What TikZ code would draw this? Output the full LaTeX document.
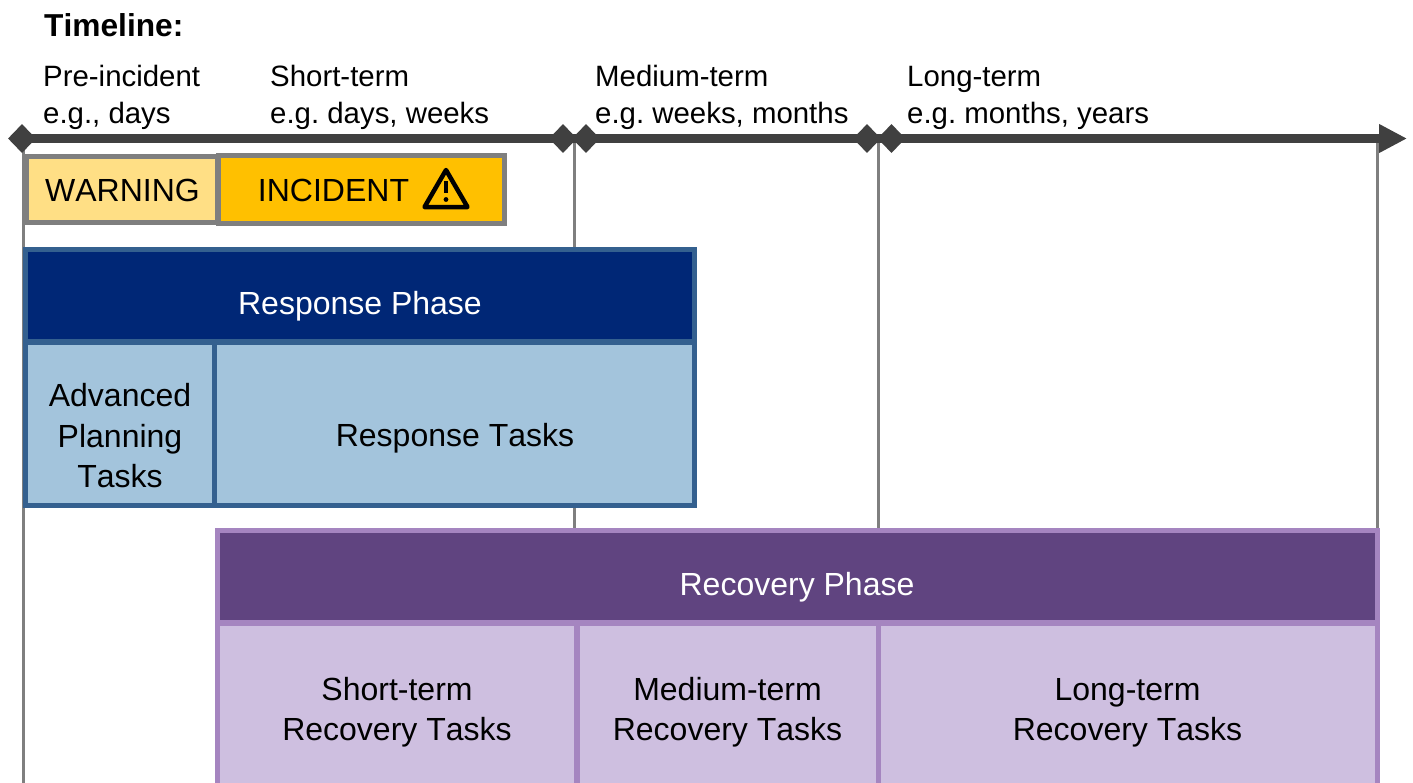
\documentclass[tikz,border=0pt]{standalone}
\usepackage{fontspec}
\setmainfont[Kerning=Off]{Liberation Sans}
\frenchspacing
\usetikzlibrary{arrows.meta,shapes.geometric}
\definecolor{axisgray}{HTML}{404040}
\definecolor{gridgray}{HTML}{7F7F7F}
\definecolor{warnfill}{HTML}{FFDF85}
\definecolor{incidentfill}{HTML}{FFC000}
\definecolor{responsedark}{HTML}{002776}
\definecolor{responseline}{HTML}{34608F}
\definecolor{responselight}{HTML}{A3C4DC}
\definecolor{recoverydark}{HTML}{604480}
\definecolor{recoveryline}{HTML}{A585C0}
\definecolor{recoverylight}{HTML}{CEBFE0}
\tikzset{
  marker/.style={diamond,fill=axisgray,minimum width=28pt,minimum height=29pt,inner sep=0pt},
  gridline/.style={gridgray,line width=3pt},
  timelabel/.style={anchor=west,align=left,inner sep=0pt,font=\fontsize{29.4}{37}\selectfont},
  box/.style={draw,line width=5pt,inner sep=0pt,align=center,font=\fontsize{32}{40.5}\selectfont},
  alertbox/.style={box,draw=gridgray},
  responsebox/.style={box,draw=responseline,fill=responselight},
  recoverybox/.style={box,draw=recoveryline,fill=recoverylight},
  boxtext/.style={inner sep=0pt,align=center,font=\fontsize{32}{40.5}\selectfont}
}

\begin{document}
\begin{tikzpicture}[x=1pt,y=-1pt]
    \clip[use as bounding box] (0,0) rectangle (1413,782);
    \node[anchor=west,inner sep=0pt,font=\fontsize{31.7}{38}\selectfont\bfseries] (title) at (44,25.5) {Timeline:};
    \node[timelabel] (preinc) at ( 43,97) {Pre-incident\\e.g., days};
    \node[timelabel] (short)  at (270,97) {Short-term\\e.g. days, weeks};
    \node[timelabel] (medium) at (595,97) {Medium-term\\e.g. weeks, months};
    \node[timelabel] (long)   at (907,98) {Long-term\\e.g. months, years};
    % vertical guides
    \coordinate (axisa) at (  23,138);
    \coordinate (axisb) at ( 574,138);
    \coordinate (axisc) at ( 878,138);
    \coordinate (axisd) at (1377,138);
    \coordinate (foota) at (  23,790);
    \coordinate (footb) at ( 574,535);
    \coordinate (footc) at ( 878,535);
    \coordinate (footd) at (1377,535);
    \draw[gridline] (axisa) -- (foota);
    \draw[gridline] (axisb) -- (footb);
    \draw[gridline] (axisc) -- (footc);
    \draw[gridline] (axisd) -- (footd);
    % axis
    \coordinate (axistip) at (1407,138.5);
    \coordinate (axisstart) at (23,138.5);
    \draw[axisgray,line width=9.5pt,-{Triangle[length=28pt,width=27pt]}] (axisstart) -- (axistip);
    \node[marker] (marka) at ( 22,138.5) {};
    \node[marker] (markb) at (563,138.5) {};
    \node[marker] (markc) at (586,138.5) {};
    \node[marker] (markd) at (867,138.5) {};
    \node[marker] (marke) at (891.5,138.5) {};
    % warning and incident
    \node[alertbox,fill=warnfill,minimum width=191pt,minimum height=66pt] (warning) at (122,189) {};
    \node[boxtext] (warningtext) at (122.5,190.5) {WARNING};
    \node[alertbox,fill=incidentfill,minimum width=286.5pt,minimum height=68pt] (incident) at (361.25,189) {};
    \node[boxtext] (incidenttext) at (333.5,190.5) {INCIDENT};
    \draw[black,line width=4.5pt,line join=round] (446,170) -- (467.5,207) -- (424.5,207) -- cycle;
    \draw[black,line width=4pt] (446,181) -- (446,193);
    \fill[black] (446,199.5) circle (2.4pt);
    % response phase
    \node[box,draw=responseline,fill=responsedark,minimum width=669pt,minimum height=92pt] (respphase) at (360,295.5) {};
    \node[boxtext,text=white] (resptext) at (360,306) {Response Phase};
    \node[responsebox,minimum width=189pt,minimum height=163pt] (advanced) at (120,423.5) {};
    \node[boxtext] (advtext) at (120,436) {Advanced\\Planning\\Tasks};
    \node[responsebox,minimum width=480pt,minimum height=163pt] (resptasks) at (454.5,423.5) {};
    \node[boxtext] (resptaskstext) at (455,438) {Response Tasks};
    % recovery phase
    \node[box,draw=recoveryline,fill=recoverydark,minimum width=1159.5pt,minimum height=92pt] (recphase) at (797.25,576.5) {};
    \node[boxtext,text=white] (rectext) at (797,587) {Recovery Phase};
    \node[recoverybox,minimum width=359pt,minimum height=178pt] (recshort) at (397,712) {Short-term\\Recovery Tasks};
    \node[recoverybox,minimum width=301pt,minimum height=178pt] (recmedium) at (727.5,712) {Medium-term\\Recovery Tasks};
    \node[recoverybox,minimum width=499pt,minimum height=180pt] (reclong) at (1127.5,713) {Long-term\\Recovery Tasks};
  \end{tikzpicture}
\end{document}
